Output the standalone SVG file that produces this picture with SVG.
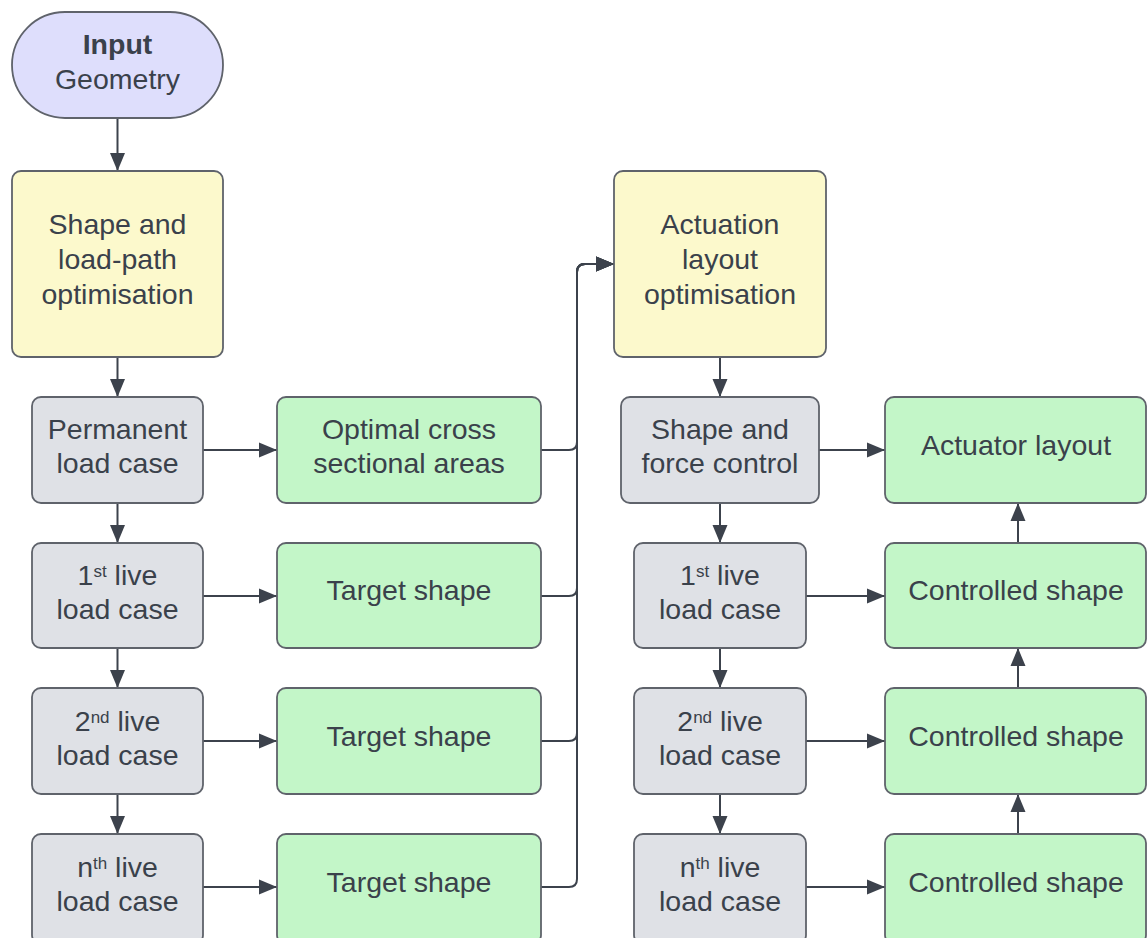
<svg xmlns="http://www.w3.org/2000/svg" width="1147" height="938" viewBox="0 0 1147 938">
<defs>
<style>
.t{font-family:"Liberation Sans",Arial,sans-serif;font-size:28.5px;fill:#3a414b;text-anchor:middle}
.b{font-weight:bold}
.sup{font-size:17px}
.box{stroke:#5f636b;stroke-width:1.8}
.pur{fill:#dedefc}
.yel{fill:#fcf9cc}
.gry{fill:#dfe1e6}
.grn{fill:#c3f6c8}
.c{fill:none;stroke:#3c424c;stroke-width:2;marker-end:url(#ah)}
</style>
<marker id="ah" markerUnits="userSpaceOnUse" markerWidth="20" markerHeight="18" refX="18" refY="8.5" orient="auto">
<path d="M0,1 L18,8.5 L0,16 Z" fill="#3c424c"/>
</marker>
</defs>
<rect width="1147" height="938" fill="#ffffff"/>
<g id="connectors">
<path class="c" d="M117.5,118 V171"/>
<path class="c" d="M117.5,357 V397"/>
<path class="c" d="M117.5,503 V543"/>
<path class="c" d="M117.5,648 V688"/>
<path class="c" d="M117.5,794 V834"/>
<path class="c" d="M203,450 H277"/>
<path class="c" d="M203,596 H277"/>
<path class="c" d="M203,741 H277"/>
<path class="c" d="M203,887 H277"/>
<path class="c" d="M541,450 H569 Q577,450 577,442 V272 Q577,264 585,264 H614"/>
<path class="c" d="M541,596 H569 Q577,596 577,588 V272 Q577,264 585,264 H614"/>
<path class="c" d="M541,741 H569 Q577,741 577,733 V272 Q577,264 585,264 H614"/>
<path class="c" d="M541,887 H569 Q577,887 577,879 V272 Q577,264 585,264 H614"/>
<path class="c" d="M720,357 V397"/>
<path class="c" d="M720,503 V543"/>
<path class="c" d="M720,648 V688"/>
<path class="c" d="M720,794 V834"/>
<path class="c" d="M819,450 H885"/>
<path class="c" d="M806,596 H885"/>
<path class="c" d="M806,741 H885"/>
<path class="c" d="M806,887 H885"/>
<path class="c" d="M1018,543 V503"/>
<path class="c" d="M1018,688 V648"/>
<path class="c" d="M1018,834 V794"/>
</g>
<g id="input">
<rect class="box pur" x="12" y="12" width="211" height="106" rx="53"/>
<text class="t" x="117.5"><tspan class="b" x="117.5" y="54">Input</tspan><tspan x="117.5" y="89">Geometry</tspan></text>
</g>
<g id="shape-opt">
<rect class="box yel" x="12" y="171" width="211" height="186" rx="9"/>
<text class="t"><tspan x="117.5" y="234">Shape and</tspan><tspan x="117.5" y="269">load-path</tspan><tspan x="117.5" y="304">optimisation</tspan></text>
</g>
<g id="permanent">
<rect class="box gry" x="32" y="397" width="171" height="106" rx="9"/>
<text class="t"><tspan x="117.5" y="439">Permanent</tspan><tspan x="117.5" y="473">load case</tspan></text>
</g>
<g id="live1">
<rect class="box gry" x="32" y="543" width="171" height="105" rx="9"/>
<text class="t" x="117.5" y="585">1<tspan class="sup" dy="-8">st</tspan><tspan dy="8"> live</tspan></text>
<text class="t" x="117.5" y="619">load case</text>
</g>
<g id="live2">
<rect class="box gry" x="32" y="688" width="171" height="106" rx="9"/>
<text class="t" x="117.5" y="731">2<tspan class="sup" dy="-8">nd</tspan><tspan dy="8"> live</tspan></text>
<text class="t" x="117.5" y="765">load case</text>
</g>
<g id="liven">
<rect class="box gry" x="32" y="834" width="171" height="110" rx="9"/>
<text class="t" x="117.5" y="877">n<tspan class="sup" dy="-8">th</tspan><tspan dy="8"> live</tspan></text>
<text class="t" x="117.5" y="911">load case</text>
</g>
<g id="optimal-areas">
<rect class="box grn" x="277" y="397" width="264" height="106" rx="9"/>
<text class="t"><tspan x="409" y="439">Optimal cross</tspan><tspan x="409" y="473">sectional areas</tspan></text>
</g>
<g id="target1">
<rect class="box grn" x="277" y="543" width="264" height="105" rx="9"/>
<text class="t" x="409" y="600">Target shape</text>
</g>
<g id="target2">
<rect class="box grn" x="277" y="688" width="264" height="106" rx="9"/>
<text class="t" x="409" y="746">Target shape</text>
</g>
<g id="targetn">
<rect class="box grn" x="277" y="834" width="264" height="110" rx="9"/>
<text class="t" x="409" y="892">Target shape</text>
</g>
<g id="actuation-opt">
<rect class="box yel" x="614" y="171" width="212" height="186" rx="9"/>
<text class="t"><tspan x="720" y="234">Actuation</tspan><tspan x="720" y="269">layout</tspan><tspan x="720" y="304">optimisation</tspan></text>
</g>
<g id="shape-force">
<rect class="box gry" x="621" y="397" width="198" height="106" rx="9"/>
<text class="t"><tspan x="720" y="439">Shape and</tspan><tspan x="720" y="473">force control</tspan></text>
</g>
<g id="rlive1">
<rect class="box gry" x="634" y="543" width="172" height="105" rx="9"/>
<text class="t" x="720" y="585">1<tspan class="sup" dy="-8">st</tspan><tspan dy="8"> live</tspan></text>
<text class="t" x="720" y="619">load case</text>
</g>
<g id="rlive2">
<rect class="box gry" x="634" y="688" width="172" height="106" rx="9"/>
<text class="t" x="720" y="731">2<tspan class="sup" dy="-8">nd</tspan><tspan dy="8"> live</tspan></text>
<text class="t" x="720" y="765">load case</text>
</g>
<g id="rliven">
<rect class="box gry" x="634" y="834" width="172" height="110" rx="9"/>
<text class="t" x="720" y="877">n<tspan class="sup" dy="-8">th</tspan><tspan dy="8"> live</tspan></text>
<text class="t" x="720" y="911">load case</text>
</g>
<g id="actuator-layout">
<rect class="box grn" x="885" y="397" width="261" height="106" rx="9"/>
<text class="t" x="1016" y="455">Actuator layout</text>
</g>
<g id="controlled1">
<rect class="box grn" x="885" y="543" width="261" height="105" rx="9"/>
<text class="t" x="1016" y="600">Controlled shape</text>
</g>
<g id="controlled2">
<rect class="box grn" x="885" y="688" width="261" height="106" rx="9"/>
<text class="t" x="1016" y="746">Controlled shape</text>
</g>
<g id="controlledn">
<rect class="box grn" x="885" y="834" width="261" height="110" rx="9"/>
<text class="t" x="1016" y="892">Controlled shape</text>
</g>
</svg>
